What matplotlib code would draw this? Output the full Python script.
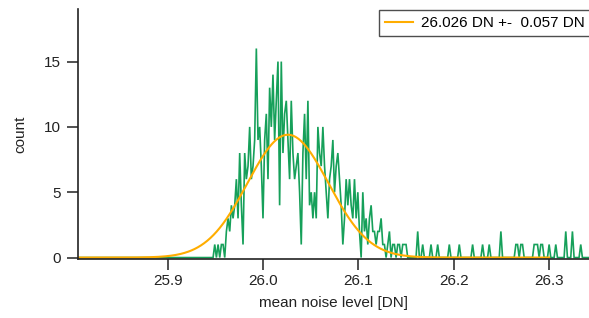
import numpy as np
import matplotlib
matplotlib.use('Agg')
import matplotlib.pyplot as plt

plt.rcParams['font.family'] = ['Liberation Sans', 'DejaVu Sans']

# ---------------- data ----------------
bin_start = 25.8044          # first histogram bin (DN)
bin_width = 0.001745         # histogram bin width (DN)
x_end = 26.342               # last bin (DN)
main_start = 25.944          # start of the dense part of the histogram

counts_main = [
    # 25.944 ..
    0, 0, 0, 1, 0, 1, 0, 1, 1, 0, 2, 3, 2, 4, 3, 4, 6, 3, 8, 4, 1, 8, 6, 7,
    10, 6, 7, 9, 16, 9, 10, 7, 3,
    # 26.002 ..
    9, 11, 6, 13, 10, 14, 9, 12, 15, 4, 15, 8, 11, 12, 9, 6, 12, 8, 6, 7,
    8, 5, 1, 8, 11, 6, 12, 4, 5, 3, 5, 3, 10,
    # 26.059 ..
    8, 7, 10, 7, 5, 3, 6, 7, 9, 5, 7, 8, 6, 4, 1, 3, 6, 4, 6, 4, 3, 6, 3,
    5, 2, 0, 5, 2, 3, 1, 3, 4, 2,
    # 26.117 ..
    2, 1, 2, 2, 3, 1, 1, 0, 1, 2, 0, 1, 1, 0, 1, 1, 0, 1, 1, 1,
]

tail_x = [26.1621, 26.1681, 26.1754, 26.1838, 26.1948, 26.2058, 26.2197,
          26.2295, 26.2379, 26.2497,
          26.2651, 26.2668, 26.2703, 26.2720,
          26.2843, 26.2860, 26.2878, 26.2913, 26.2930,
          26.3007, 26.3063, 26.3168, 26.3244, 26.3332]
tail_counts = [2, 1, 1, 1, 1, 1, 1, 1, 1, 2,
               1, 1, 1, 1,
               1, 1, 1, 1, 1,
               1, 1, 2, 2, 1]

# Gaussian fit (Igor form: A*exp(-((x-x0)/w)^2))
fit_center = 26.026
fit_width = 0.060
fit_amp = 9.4
fit_x_min, fit_x_max = 25.805, 26.30
legend_label = "26.026 DN +-  0.057 DN"

x_ticks = [25.9, 26.0, 26.1, 26.2, 26.3]
x_tick_labels = ["25.9", "26.0", "26.1", "26.2", "26.3"]
y_ticks = [0, 5, 10, 15]

# ---------------- build histogram ----------------
n_bins = int(round((x_end - bin_start) / bin_width)) + 1
hist_x = bin_start + np.arange(n_bins) * bin_width
hist_y = np.zeros(n_bins)
i0 = int(round((main_start - bin_start) / bin_width))
hist_y[i0:i0 + len(counts_main)] = counts_main
for tx, tc in zip(tail_x, tail_counts):
    hist_y[int(round((tx - bin_start) / bin_width))] = tc

fit_x = np.linspace(fit_x_min, fit_x_max, 600)
fit_y = fit_amp * np.exp(-((fit_x - fit_center) / fit_width) ** 2)

# ---------------- plot ----------------
fig = plt.figure(figsize=(5.89, 3.18), dpi=100)
ax = fig.add_axes([78 / 589, 59 / 318, 1 - 78 / 589, (259 - 9.3) / 318])

green = '#16a05a'
orange = '#ffad00'
ax.plot(hist_x, hist_y, color=green, lw=1.2, solid_joinstyle='miter')
ax.plot(fit_x, fit_y, color=orange, lw=1.5, label=legend_label)

ax.set_xlim(25.8058, 26.3418)
ax.set_ylim(-0.11, 19.0)
ax.set_xticks(x_ticks)
ax.set_xticklabels(x_tick_labels)
ax.set_yticks(y_ticks)

for s in ['top', 'right']:
    ax.spines[s].set_visible(False)
for s in ['left', 'bottom']:
    ax.spines[s].set_color('#222222')
    ax.spines[s].set_linewidth(1.2)

ax.tick_params(axis='both', direction='out', length=8, width=1.1,
               color='#222222', labelsize=11, labelcolor='#222222')
ax.tick_params(axis='x', pad=3)
ax.tick_params(axis='y', pad=4)

ax.set_xlabel('mean noise level [DN]', fontsize=11, color='#222222', labelpad=5.5)
ax.set_ylabel('count', fontsize=11, color='#222222', labelpad=12)

leg = fig.legend(loc='upper left', bbox_to_anchor=(379 / 589, 1 - 10 / 318),
                 fontsize=11, frameon=True, fancybox=False, handlelength=1.85,
                 handletextpad=0.5, borderpad=0.4, borderaxespad=0)
leg.get_frame().set_edgecolor('#222222')
leg.get_frame().set_linewidth(1.0)

fig.savefig('out.png', dpi=100)
